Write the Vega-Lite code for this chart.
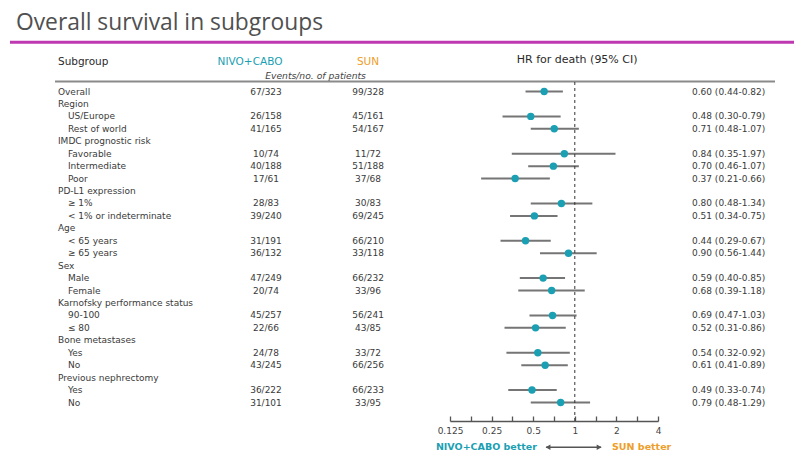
{
  "$schema": "https://vega.github.io/schema/vega-lite/v6.json",
  "width": 794,
  "height": 376,
  "autosize": {"type": "none"},
  "padding": {"left": 0, "right": 0, "top": 45, "bottom": 43},
  "background": "white",
  "title": {
    "text": "Overall survival in subgroups",
    "anchor": "start",
    "frame": "group",
    "dx": 16,
    "offset": -12,
    "baseline": "alphabetic",
    "font": "Open Sans",
    "fontSize": 22.8,
    "fontWeight": "normal",
    "color": "#505050"
  },
  "config": {"view": {"stroke": null}, "text": {"font": "DejaVu Sans"}},
  "data": {
    "values": [
      {"i": 1, "label": "Overall", "lv": 0, "n": "67/323", "s": "99/328", "hr": 0.60, "lo": 0.44, "hi": 0.82, "ci": "0.60 (0.44-0.82)"},
      {"i": 2, "label": "Region", "lv": 0},
      {"i": 3, "label": "US/Europe", "lv": 1, "n": "26/158", "s": "45/161", "hr": 0.48, "lo": 0.30, "hi": 0.79, "ci": "0.48 (0.30-0.79)"},
      {"i": 4, "label": "Rest of world", "lv": 1, "n": "41/165", "s": "54/167", "hr": 0.71, "lo": 0.48, "hi": 1.07, "ci": "0.71 (0.48-1.07)"},
      {"i": 5, "label": "IMDC prognostic risk", "lv": 0},
      {"i": 6, "label": "Favorable", "lv": 1, "n": "10/74", "s": "11/72", "hr": 0.84, "lo": 0.35, "hi": 1.97, "ci": "0.84 (0.35-1.97)"},
      {"i": 7, "label": "Intermediate", "lv": 1, "n": "40/188", "s": "51/188", "hr": 0.70, "lo": 0.46, "hi": 1.07, "ci": "0.70 (0.46-1.07)"},
      {"i": 8, "label": "Poor", "lv": 1, "n": "17/61", "s": "37/68", "hr": 0.37, "lo": 0.21, "hi": 0.66, "ci": "0.37 (0.21-0.66)"},
      {"i": 9, "label": "PD-L1 expression", "lv": 0},
      {"i": 10, "label": "≥ 1%", "lv": 1, "n": "28/83", "s": "30/83", "hr": 0.80, "lo": 0.48, "hi": 1.34, "ci": "0.80 (0.48-1.34)"},
      {"i": 11, "label": "< 1% or indeterminate", "lv": 1, "n": "39/240", "s": "69/245", "hr": 0.51, "lo": 0.34, "hi": 0.75, "ci": "0.51 (0.34-0.75)"},
      {"i": 12, "label": "Age", "lv": 0},
      {"i": 13, "label": "< 65 years", "lv": 1, "n": "31/191", "s": "66/210", "hr": 0.44, "lo": 0.29, "hi": 0.67, "ci": "0.44 (0.29-0.67)"},
      {"i": 14, "label": "≥ 65 years", "lv": 1, "n": "36/132", "s": "33/118", "hr": 0.90, "lo": 0.56, "hi": 1.44, "ci": "0.90 (0.56-1.44)"},
      {"i": 15, "label": "Sex", "lv": 0},
      {"i": 16, "label": "Male", "lv": 1, "n": "47/249", "s": "66/232", "hr": 0.59, "lo": 0.40, "hi": 0.85, "ci": "0.59 (0.40-0.85)"},
      {"i": 17, "label": "Female", "lv": 1, "n": "20/74", "s": "33/96", "hr": 0.68, "lo": 0.39, "hi": 1.18, "ci": "0.68 (0.39-1.18)"},
      {"i": 18, "label": "Karnofsky performance status", "lv": 0},
      {"i": 19, "label": "90-100", "lv": 1, "n": "45/257", "s": "56/241", "hr": 0.69, "lo": 0.47, "hi": 1.03, "ci": "0.69 (0.47-1.03)"},
      {"i": 20, "label": "≤ 80", "lv": 1, "n": "22/66", "s": "43/85", "hr": 0.52, "lo": 0.31, "hi": 0.86, "ci": "0.52 (0.31-0.86)"},
      {"i": 21, "label": "Bone metastases", "lv": 0},
      {"i": 22, "label": "Yes", "lv": 1, "n": "24/78", "s": "33/72", "hr": 0.54, "lo": 0.32, "hi": 0.92, "ci": "0.54 (0.32-0.92)"},
      {"i": 23, "label": "No", "lv": 1, "n": "43/245", "s": "66/256", "hr": 0.61, "lo": 0.41, "hi": 0.89, "ci": "0.61 (0.41-0.89)"},
      {"i": 24, "label": "Previous nephrectomy", "lv": 0},
      {"i": 25, "label": "Yes", "lv": 1, "n": "36/222", "s": "66/233", "hr": 0.49, "lo": 0.33, "hi": 0.74, "ci": "0.49 (0.33-0.74)"},
      {"i": 26, "label": "No", "lv": 1, "n": "31/101", "s": "33/95", "hr": 0.79, "lo": 0.48, "hi": 1.29, "ci": "0.79 (0.48-1.29)"}
    ]
  },
  "encoding": {
    "y": {"field": "i", "type": "quantitative", "scale": {"domain": [-2.738, 27.487], "reverse": true, "nice": false, "zero": false}, "axis": null}
  },
  "layer": [
    {
      "layer": [
        {
          "transform": [{"filter": "datum.i == 1"}],
          "mark": {"type": "rule", "color": "#BE38B2", "strokeWidth": 3},
          "encoding": {
            "x": {"datum": 0.0126, "type": "quantitative", "scale": {"domain": [0, 1], "nice": false, "zero": false}, "axis": null},
            "x2": {"datum": 1},
            "y": {"datum": -2.955}
          }
        },
        {
          "transform": [{"filter": "datum.i == 1"}],
          "mark": {"type": "rule", "color": "#8a8a8a", "strokeWidth": 2},
          "encoding": {
            "x": {"datum": 0.0693, "type": "quantitative"},
            "x2": {"datum": 0.9761},
            "y": {"datum": 0.196}
          }
        },
        {
          "transform": [{"filter": "datum.i == 1"}],
          "mark": {"type": "text", "text": "Subgroup", "align": "left", "baseline": "middle", "fontSize": 10.5, "color": "#2a2a2a"},
          "encoding": {"x": {"datum": 0.073, "type": "quantitative"}, "y": {"datum": -1.371}}
        },
        {
          "transform": [{"filter": "datum.i == 1"}],
          "mark": {"type": "text", "text": "NIVO+CABO", "align": "center", "baseline": "middle", "fontSize": 10.5, "color": "#1A9FB3"},
          "encoding": {"x": {"datum": 0.3149, "type": "quantitative"}, "y": {"datum": -1.371}}
        },
        {
          "transform": [{"filter": "datum.i == 1"}],
          "mark": {"type": "text", "text": "SUN", "align": "center", "baseline": "middle", "fontSize": 10.5, "color": "#EE9E2A"},
          "encoding": {"x": {"datum": 0.4635, "type": "quantitative"}, "y": {"datum": -1.371}}
        },
        {
          "transform": [{"filter": "datum.i == 1"}],
          "mark": {"type": "text", "text": "Events/no. of patients", "align": "center", "baseline": "middle", "fontSize": 9.2, "fontStyle": "italic", "color": "#444444"},
          "encoding": {"x": {"datum": 0.3974, "type": "quantitative"}, "y": {"datum": -0.286}}
        },
        {
          "transform": [{"filter": "datum.lv == 0"}],
          "mark": {"type": "text", "align": "left", "baseline": "middle", "fontSize": 9, "color": "#3a3a3a"},
          "encoding": {"x": {"datum": 0.073, "type": "quantitative"}, "text": {"field": "label"}}
        },
        {
          "transform": [{"filter": "datum.lv == 1"}],
          "mark": {"type": "text", "align": "left", "baseline": "middle", "fontSize": 9, "color": "#3a3a3a"},
          "encoding": {"x": {"datum": 0.0856, "type": "quantitative"}, "text": {"field": "label"}}
        },
        {
          "transform": [{"filter": "isValid(datum.n)"}],
          "mark": {"type": "text", "align": "center", "baseline": "middle", "fontSize": 9, "color": "#3a3a3a"},
          "encoding": {"x": {"datum": 0.335, "type": "quantitative"}, "text": {"field": "n"}}
        },
        {
          "transform": [{"filter": "isValid(datum.s)"}],
          "mark": {"type": "text", "align": "center", "baseline": "middle", "fontSize": 9, "color": "#3a3a3a"},
          "encoding": {"x": {"datum": 0.4635, "type": "quantitative"}, "text": {"field": "s"}}
        },
        {
          "transform": [{"filter": "isValid(datum.ci)"}],
          "mark": {"type": "text", "align": "left", "baseline": "middle", "fontSize": 9, "color": "#3a3a3a"},
          "encoding": {"x": {"datum": 0.8715, "type": "quantitative"}, "text": {"field": "ci"}}
        }
      ]
    },
    {
      "layer": [
        {
          "transform": [{"filter": "isValid(datum.hr)"}],
          "mark": {"type": "rule", "color": "#757575", "strokeWidth": 2},
          "encoding": {
            "x": {
              "field": "lo", "type": "quantitative",
              "scale": {"type": "log", "base": 2, "domain": [0.125, 4], "range": [450, 658], "nice": false, "zero": false},
              "axis": {
                "orient": "bottom", "title": null, "grid": false,
                "values": [0.125, 0.1768, 0.25, 0.3536, 0.5, 0.7071, 1, 1.4142, 2, 2.8284, 4],
                "labelExpr": "datum.value == 0.125 ? '0.125' : datum.value == 0.25 ? '0.25' : datum.value == 0.5 ? '0.5' : datum.value == 1 ? '1' : datum.value == 2 ? '2' : datum.value == 4 ? '4' : ''",
                "tickSize": -5, "tickWidth": 1.3, "tickColor": "#555555",
                "domainColor": "#555555", "domainWidth": 1.3,
                "labelFont": "DejaVu Sans", "labelFontSize": 9, "labelColor": "#444444",
                "labelPadding": 10, "labelFlush": false, "labelOverlap": false
              }
            },
            "x2": {"field": "hi"}
          }
        },
        {
          "transform": [{"filter": "isValid(datum.hr)"}],
          "mark": {"type": "circle", "color": "#1A9FB3", "size": 55, "opacity": 1},
          "encoding": {"x": {"field": "hr", "type": "quantitative"}}
        },
        {
          "transform": [{"filter": "datum.i == 1"}],
          "mark": {"type": "rule", "color": "#333333", "strokeWidth": 1, "strokeDash": [3, 3]},
          "encoding": {"x": {"datum": 1, "type": "quantitative"}, "y": {"datum": 0.236}, "y2": {"datum": 27.487}}
        },
        {
          "transform": [{"filter": "datum.i == 1"}],
          "mark": {"type": "text", "text": "HR for death (95% CI)", "align": "center", "baseline": "middle", "fontSize": 11, "color": "#2a2a2a"},
          "encoding": {"x": {"datum": 1.04, "type": "quantitative"}, "y": {"datum": -1.572}}
        },
        {
          "transform": [{"filter": "datum.i == 1"}],
          "mark": {"type": "rule", "color": "#555555", "strokeWidth": 1.5},
          "encoding": {"x": {"datum": 0.62, "type": "quantitative"}, "x2": {"datum": 1.55}, "y": {"datum": 29.6}}
        },
        {
          "transform": [{"filter": "datum.i == 1"}],
          "mark": {"type": "point", "shape": "triangle-left", "filled": true, "color": "#555555", "size": 32, "opacity": 1},
          "encoding": {"x": {"datum": 0.64, "type": "quantitative"}, "y": {"datum": 29.6}}
        },
        {
          "transform": [{"filter": "datum.i == 1"}],
          "mark": {"type": "point", "shape": "triangle-right", "filled": true, "color": "#555555", "size": 32, "opacity": 1},
          "encoding": {"x": {"datum": 1.5, "type": "quantitative"}, "y": {"datum": 29.6}}
        },
        {
          "transform": [{"filter": "datum.i == 1"}],
          "mark": {"type": "text", "text": "NIVO+CABO better", "align": "right", "baseline": "middle", "fontSize": 9.5, "fontWeight": "bold", "color": "#1A9FB3"},
          "encoding": {"x": {"datum": 0.5326, "type": "quantitative"}, "y": {"datum": 29.6}}
        },
        {
          "transform": [{"filter": "datum.i == 1"}],
          "mark": {"type": "text", "text": "SUN better", "align": "left", "baseline": "middle", "fontSize": 9.5, "fontWeight": "bold", "color": "#EE9E2A"},
          "encoding": {"x": {"datum": 1.859, "type": "quantitative"}, "y": {"datum": 29.6}}
        }
      ]
    }
  ],
  "resolve": {"scale": {"x": "independent"}}
}
